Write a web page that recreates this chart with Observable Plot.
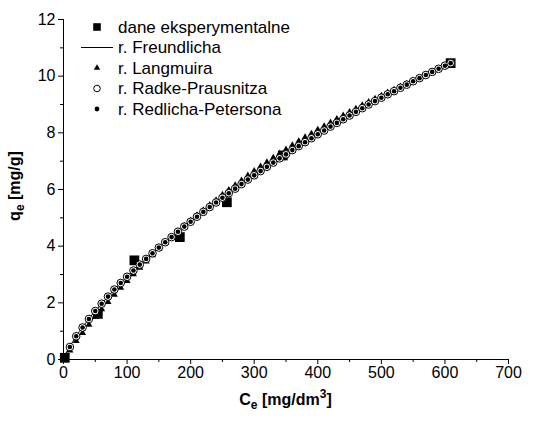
<!DOCTYPE html>
<html><head><meta charset="utf-8">
<script src="https://cdn.jsdelivr.net/npm/d3@7"></script>
<script src="https://cdn.jsdelivr.net/npm/@observablehq/plot@0.6"></script>
<style>
body{margin:0;background:#fff}
svg{font-family:"Liberation Sans",Arial,sans-serif}
</style>
</head><body><div id="chart"></div>
<script>
// Experimental data
const ceExp = [2, 54, 111.5, 183, 257, 345, 609];
const qExp  = [0.06, 1.61, 3.5, 4.32, 5.55, 7.2, 10.46];

// Model points (C values)
const ceModel = [10,20,30,40,50,60,70,80,90,100,110,120,130,140,150,160,170,180,190,200,
  210,220,230,240,250,260,270,280,290,300,310,320,330,340,350,360,370,380,390,400,
  410,420,430,440,450,460,470,480,490,500,510,520,530,540,550,560,570,580,590,600,609];

const qRadke = [0.44,0.82,1.13,1.43,1.71,1.97,2.22,2.47,2.70,2.92,3.14,3.35,3.55,3.75,3.95,4.14,4.32,4.51,4.69,4.86,
  5.04,5.21,5.38,5.54,5.71,5.87,6.03,6.19,6.35,6.50,6.65,6.80,6.95,7.10,7.24,7.39,7.53,7.67,7.81,7.95,
  8.08,8.22,8.35,8.48,8.61,8.74,8.87,9.00,9.12,9.24,9.36,9.47,9.59,9.70,9.82,9.93,10.04,10.15,10.26,10.37,10.46];

const qRedlich = [0.44,0.82,1.13,1.43,1.71,1.97,2.22,2.47,2.70,2.92,3.14,3.35,3.55,3.75,3.95,4.14,4.32,4.51,4.69,4.86,
  5.04,5.21,5.38,5.54,5.71,5.87,6.03,6.19,6.35,6.50,6.65,6.80,6.95,7.10,7.24,7.39,7.53,7.67,7.81,7.95,
  8.08,8.22,8.35,8.48,8.61,8.74,8.87,9.00,9.12,9.24,9.36,9.47,9.59,9.70,9.82,9.93,10.04,10.15,10.26,10.37,10.46];

const qLangmuir = [0.32,0.65,0.94,1.23,1.51,1.77,2.03,2.29,2.53,2.77,3.01,3.24,3.46,3.68,3.90,4.11,4.31,4.52,4.72,4.90,
  5.09,5.27,5.45,5.62,5.81,5.98,6.15,6.32,6.49,6.65,6.81,6.96,7.12,7.27,7.41,7.56,7.70,7.84,7.97,8.11,
  8.23,8.36,8.49,8.61,8.73,8.85,8.97,9.09,9.20,9.31,9.42,9.52,9.63,9.73,9.84,9.94,10.04,10.14,10.24,10.34,10.42];

// Freundlich line (starts at origin)
const ceFreundlich = [0,5,10,20,30,40,50,60,70,80,90,100,150,200,250,300,350,400,450,500,550,609];
const qFreundlich  = [0,0.27,0.46,0.83,1.14,1.44,1.71,1.97,2.22,2.47,2.70,2.92,3.95,4.86,5.71,6.50,7.24,7.95,8.61,9.24,9.82,10.46];

// Axis ticks
const xTicks = [0,100,200,300,400,500,600,700];
const xMinor = [50,150,250,350,450,550,650];
const yTicks = [0,2,4,6,8,10,12];
const yMinor = [1,3,5,7,9,11];

const legendItems = ["dane eksperymentalne","r. Freundlicha","r. Langmuira","r. Radke-Prausnitza","r. Redlicha-Petersona"];

const expData = ceExp.map((c,i)=>({c, q:qExp[i]}));
const langData = ceModel.map((c,i)=>({c, q:qLangmuir[i]}));
const radkeData = ceModel.map((c,i)=>({c, q:qRadke[i]}));
const redData = ceModel.map((c,i)=>({c, q:qRedlich[i]}));
const freuData = ceFreundlich.map((c,i)=>({c, q:qFreundlich[i]}));

const W = 541, H = 426;
const plot = Plot.plot({
  width: W, height: H,
  marginLeft: 63, marginRight: 33, marginTop: 19, marginBottom: 67,
  style: {fontFamily: '"Liberation Sans",Arial,sans-serif', fontSize: "16px", color: "#000", background: "#fff"},
  x: {domain: [0,700]},
  y: {domain: [0,12]},
  marks: [
    Plot.axisX({ticks: xTicks, tickSize: 5, tickPadding: 2, label: null, fontSize: 16}),
    Plot.axisX({ticks: xMinor, tickSize: 3, tickFormat: () => "", label: null}),
    Plot.axisY({ticks: yTicks, tickSize: 5, tickPadding: 3, label: null, fontSize: 16}),
    Plot.axisY({ticks: yMinor, tickSize: 3, tickFormat: () => "", label: null}),
    Plot.frame({anchor: "left", stroke: "#000"}),
    Plot.frame({anchor: "bottom", stroke: "#000"}),
    Plot.dot(expData, {x:"c", y:"q", symbol:"square", r:5.5, fill:"#000", stroke:"none"}),
    Plot.line(freuData, {x:"c", y:"q", stroke:"#000", strokeWidth:1, curve:"monotone-x"}),
    Plot.dot(langData, {x:"c", y:"q", symbol:"triangle", r:2.6, fill:"#000", stroke:"none"}),
    Plot.dot(radkeData, {x:"c", y:"q", symbol:"circle", r:3.8, fill:"#fff", stroke:"#000", strokeWidth:1}),
    Plot.dot(redData, {x:"c", y:"q", symbol:"circle", r:2.3, fill:"#000", stroke:"none"})
  ]
});
document.getElementById("chart").appendChild(plot);

const svg = d3.select(plot);
const xs = plot.scale("x"), ys = plot.scale("y");
const cx = (xs.range[0] + xs.range[1]) / 2;
const cy = (ys.range[0] + ys.range[1]) / 2;

// Axis titles
const xt = svg.append("text").attr("x", cx).attr("y", 405).attr("text-anchor","middle")
  .attr("font-weight","bold").attr("font-size",16).attr("fill","#000");
xt.append("tspan").text("C");
xt.append("tspan").attr("dy", 4).attr("font-size", 12).text("e");
xt.append("tspan").attr("dy", -4).text(" [mg/dm");
xt.append("tspan").attr("dy", -7).attr("font-size", 12).text("3");
xt.append("tspan").attr("dy", 7).text("]");

const yt = svg.append("text").attr("transform", `translate(20,${cy - 3}) rotate(-90)`).attr("text-anchor","middle")
  .attr("font-weight","bold").attr("font-size",16).attr("fill","#000");
yt.append("tspan").text("q");
yt.append("tspan").attr("dy", 4).attr("font-size", 12).text("e");
yt.append("tspan").attr("dy", -4).text(" [mg/g]");

// Legend
const lg = svg.append("g").attr("text-anchor","start");
const lx = 97, ly0 = 27, lstep = 20.5;
legendItems.forEach((t,i)=>{
  const y = ly0 + i*lstep;
  lg.append("text").attr("x", 118).attr("y", y).attr("dy","0.35em").attr("text-anchor","start")
    .attr("font-size",17).attr("fill","#000").text(t);
  if (i===0) lg.append("rect").attr("x", lx-3.8).attr("y", y-3.8).attr("width",7.6).attr("height",7.6).attr("fill","#000");
  if (i===1) lg.append("line").attr("x1",81).attr("x2",113).attr("y1",y).attr("y2",y).attr("stroke","#000").attr("stroke-width",1);
  if (i===2) lg.append("path").attr("transform",`translate(${lx},${y})`).attr("d", d3.symbol(d3.symbolTriangle, 18)()).attr("fill","#000");
  if (i===3) lg.append("circle").attr("cx",lx).attr("cy",y).attr("r",3.3).attr("fill","#fff").attr("stroke","#000");
  if (i===4) lg.append("circle").attr("cx",lx).attr("cy",y).attr("r",2.4).attr("fill","#000");
});
</script>
</body></html>
